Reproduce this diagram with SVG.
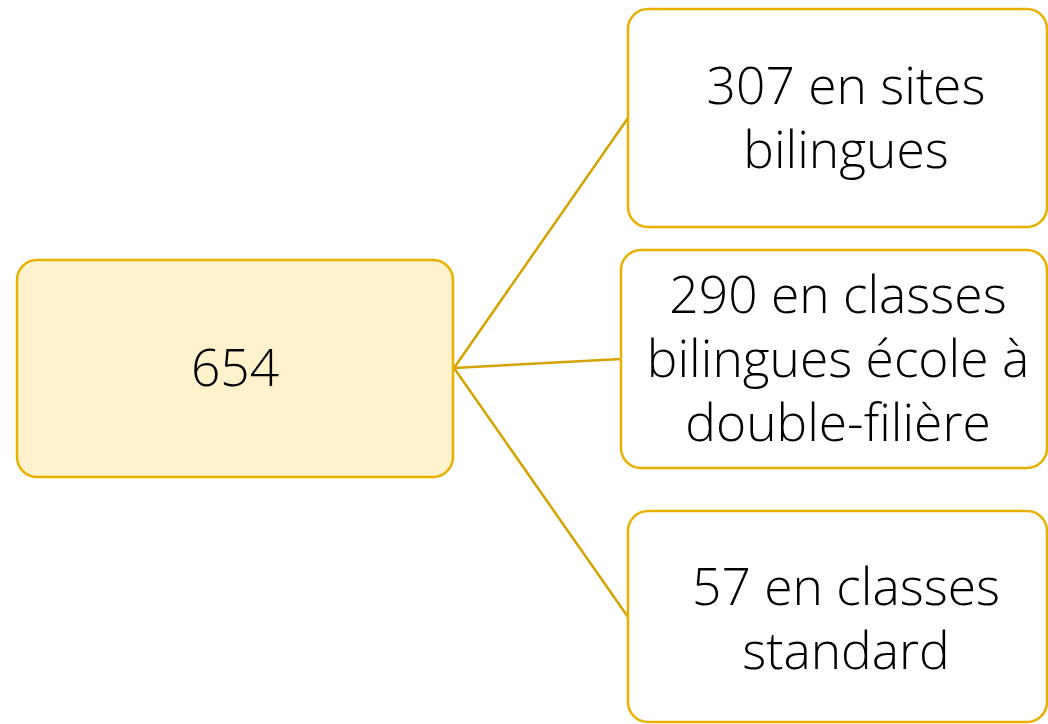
<svg xmlns="http://www.w3.org/2000/svg" width="1048" height="724" viewBox="0 0 1048 724">
<style>
.box{fill:#fff;stroke:#E8B100;stroke-width:2.5}
.root{fill:#FFF2CC;stroke:#E8B100;stroke-width:2.5}
.t{font-family:"Open Sans","Noto Sans",sans-serif;font-weight:300;font-size:51.5px;fill:#000;text-anchor:middle}
.c{stroke:#D4A300;stroke-width:2.5;fill:none}
</style>
<g id="connectors">
<line class="c" x1="454" y1="368" x2="628" y2="118"/>
<line class="c" x1="454" y1="368" x2="621" y2="359"/>
<line class="c" x1="454" y1="368" x2="628" y2="617"/>
</g>
<g id="root">
<rect class="root" x="17" y="260" width="436" height="217" rx="20"/>
<text class="t" x="235" y="386">654</text>
</g>
<g id="n1">
<rect class="box" x="628" y="9" width="419" height="218" rx="20"/>
<text class="t" x="846" y="104">307 en sites</text>
<text class="t" x="846" y="168">bilingues</text>
</g>
<g id="n2">
<rect class="box" x="621" y="250" width="426" height="218" rx="20"/>
<text class="t" x="838" y="313">290 en classes</text>
<text class="t" x="838" y="377">bilingues école à</text>
<text class="t" x="838" y="441">double-filière</text>
</g>
<g id="n3">
<rect class="box" x="628" y="511" width="419" height="211" rx="20"/>
<text class="t" x="846" y="605">57 en classes</text>
<text class="t" x="846" y="669">standard</text>
</g>
</svg>
